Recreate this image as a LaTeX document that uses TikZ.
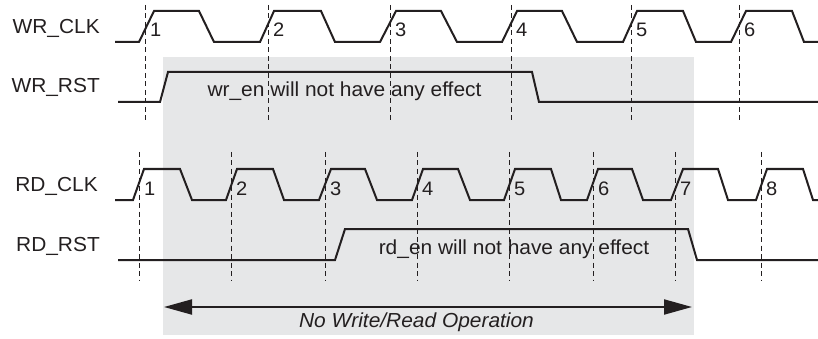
\documentclass[tikz,border=0pt]{standalone}
\usepackage{fontspec}
\setmainfont{Liberation Sans}[FakeStretch=1.03]
\usetikzlibrary{arrows.meta}
\definecolor{ink}{HTML}{231F20}
\definecolor{bggray}{HTML}{E6E7E8}
\begin{document}
\begin{tikzpicture}[x=1pt,y=-1pt,
  wave/.style={draw=ink,line width=2pt,line join=miter},
  guide/.style={draw=ink,line width=0.9pt,dash pattern=on 5pt off 3.5pt},
  lbl/.style={font=\fontsize{20.3}{22}\selectfont,text=ink,inner sep=0pt},
  num/.style={font=\fontsize{19.5}{20}\selectfont,text=ink,inner sep=0pt,anchor=base west},
  spanarrow/.style={draw=ink,line width=2pt,{Triangle[length=28pt,width=15pt]}-{Triangle[length=28pt,width=15pt]}},
]
\useasboundingbox (0,0) rectangle (818,339);
\fill[bggray] (163,57) rectangle (694,335);

% dashed guides
\foreach \x in {145,268,390,511,631,739}
  \draw[guide] (\x,5) -- (\x,123);
\foreach \x in {139,231,325,417,509,593,675,761}
  \draw[guide] (\x,152) -- (\x,281);

% WR_CLK
\draw[wave] (115,42) -- (139,42) -- (154,11) -- (199,11) -- (214,42) -- (260,42)
  -- (274,11) -- (321,11) -- (335,42) -- (380,42) -- (396,11) -- (441,11) -- (457,42)
  -- (502,42) -- (517,11) -- (562,11) -- (577,42) -- (623,42) -- (637,11) -- (683,11)
  -- (696,42) -- (731,42) -- (746,11) -- (792,11) -- (804,42) -- (818,42);
% WR_RST
\draw[wave] (118,102) -- (160,102) -- (168,72) -- (532,72) -- (539,102) -- (818,102);
% RD_CLK
\draw[wave] (115,200) -- (133,200) -- (144,169) -- (180,169) -- (192,200) -- (226,200)
  -- (237,169) -- (273,169) -- (284,200) -- (319,200) -- (331,169) -- (365,169) -- (377,200)
  -- (412,200) -- (423,169) -- (458,169) -- (470,200) -- (504,200) -- (515,169) -- (551,169)
  -- (561,200) -- (587,200) -- (598,169) -- (632,169) -- (643,200) -- (671,200) -- (683,169)
  -- (718,169) -- (728,200) -- (756,200) -- (767,169) -- (803,169) -- (813,200) -- (818,200);
% RD_RST
\draw[wave] (118,260) -- (335,260) -- (345,229) -- (688,229) -- (697,260) -- (818,260);

% signal names
\node[lbl,anchor=base east] (wrclk) at (100,33.5) {WR\_CLK};
\node[lbl,anchor=base east] (wrrst) at (100,93) {WR\_RST};
\node[lbl,anchor=base east] (rdclk) at (98,191) {RD\_CLK};
\node[lbl,anchor=base east] (rdrst) at (100,251) {RD\_RST};

% edge numbers
\foreach \x/\n in {145/1,268/2,390/3,511/4,631/5,739/6}
  \node[num] (w\n) at (\x+5,37) {\n};
\foreach \x/\n in {139/1,231/2,325/3,417/4,509/5,593/6,675/7,761/8}
  \node[num] (r\n) at (\x+5,195) {\n};

% notes
\node[lbl,anchor=base] (wrnote) at (344.5,97) {wr\_en will not have any effect};
\node[lbl,anchor=base] (rdnote) at (514,254.5) {rd\_en will not have any effect};

% span arrow
\coordinate (al) at (164,307);
\coordinate (ar) at (692,307);
\draw[spanarrow] (al) -- (ar);
\node[lbl,anchor=base,font=\fontsize{20.3}{22}\selectfont\itshape] (op) at (416.5,327) {No Write/Read Operation};
\end{tikzpicture}
\end{document}
